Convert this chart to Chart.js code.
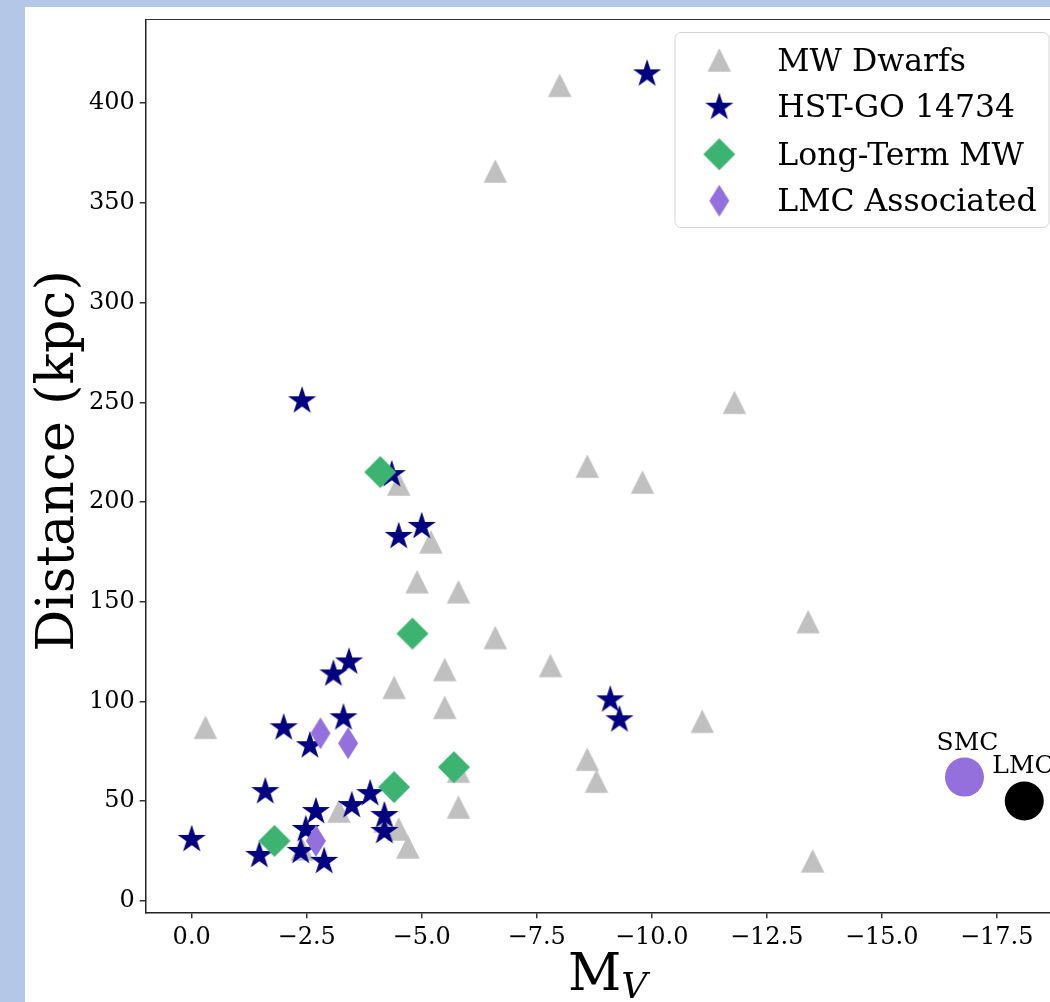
<!DOCTYPE html>
<html>
<head>
<meta charset="utf-8">
<script src="https://cdn.jsdelivr.net/npm/chart.js@4.4.1/dist/chart.umd.min.js"></script>
<style>
  html, body { margin: 0; padding: 0; }
  body { width: 1050px; height: 1002px; overflow: hidden; background: #b4c7e7; position: relative; }
  #paper { position: absolute; left: 25px; top: 7px; width: 1100px; height: 1100px; background: #fff; }
  #chart { position: absolute; left: 0; top: 0; }
</style>
</head>
<body>
<div id="paper"></div>
<canvas id="chart" width="1100" height="1002"></canvas>
<script>
// Distance vs absolute magnitude of MW satellites

const mwDwarfMv = [-0.3, -8.0, -6.6, -11.8, -8.6, -9.8, -4.5, -5.2, -4.9, -5.8, -6.6, -7.8, -5.5, -4.4,
  -5.5, -13.4, -11.1, -8.6, -8.8, -5.8, -5.8, -13.5, -3.2, -4.2, -4.5, -4.7, -2.4];
const mwDwarfDist = [87, 409, 366, 250, 218, 210, 209, 180, 160, 155, 132, 118, 116, 107,
  97, 140, 90, 71, 60, 65, 47, 20, 45, 40, 36, 27, 26];

const hstMv = [-9.9, -2.4, -4.35, -5.0, -4.5, -3.42, -3.08, -3.3, -2.0, -2.57, -9.1, -9.3,
  -1.6, 0.0, -1.47, -2.7, -2.48, -2.37, -2.88, -3.48, -3.88, -4.19, -4.19];
const hstDist = [415, 251, 214, 188, 183, 120, 114, 92, 87, 78, 101, 91,
  55, 31, 23, 45, 36, 25, 20, 48, 54, 43, 35];

const longTermMv = [-4.1, -4.8, -5.7, -4.4, -1.8];
const longTermDist = [215, 134, 67, 57, 30];

const lmcAssocMv = [-2.8, -3.4, -2.7];
const lmcAssocDist = [84, 79, 30];

const cloudNames = ['SMC', 'LMC'];
const cloudMv = [-16.8, -18.1];
const cloudDist = [62, 50];
const cloudColors = ['#9370db', '#000000'];

const xTicks = [0, -2.5, -5, -7.5, -10, -12.5, -15, -17.5];
const yTicks = [0, 50, 100, 150, 200, 250, 300, 350, 400];

const SERIF = '"DejaVu Serif", "Liberation Serif", serif';

function toPoints(xs, ys) {
  return xs.map((x, i) => ({ x: x, y: ys[i] }));
}

// marker images, shaped like matplotlib ^ * D d
function makeMarker(w, h, color, path) {
  const c = document.createElement('canvas');
  c.width = Math.ceil(w) + 2;
  c.height = Math.ceil(h) + 2;
  const g = c.getContext('2d');
  g.translate(c.width / 2, c.height / 2);
  g.fillStyle = color;
  g.beginPath();
  path(g, w / 2, h / 2);
  g.closePath();
  g.fill();
  return c;
}

const triangleImg = makeMarker(23.5, 23.5, '#c0c0c0', (g, a, b) => {
  g.moveTo(0, -b); g.lineTo(a, b); g.lineTo(-a, b);
});

const starImg = makeMarker(30, 30, '#000080', (g) => {
  const R = 14.8, r = R * 0.381966;
  for (let i = 0; i < 10; i++) {
    const ang = -Math.PI / 2 + i * Math.PI / 5;
    const rr = i % 2 === 0 ? R : r;
    const px = Math.cos(ang) * rr, py = Math.sin(ang) * rr + 0.5;
    if (i === 0) g.moveTo(px, py); else g.lineTo(px, py);
  }
});

const diamondImg = makeMarker(32, 32, '#3cb371', (g, a, b) => {
  g.moveTo(0, -b); g.lineTo(a, 0); g.lineTo(0, b); g.lineTo(-a, 0);
});

const thinDiamondImg = makeMarker(20, 32, '#9370db', (g, a, b) => {
  g.moveTo(0, -b); g.lineTo(a, 0); g.lineTo(0, b); g.lineTo(-a, 0);
});

const legendItems = [
  { label: 'MW Dwarfs', img: triangleImg },
  { label: 'HST-GO 14734', img: starImg },
  { label: 'Long-Term MW', img: diamondImg },
  { label: 'LMC Associated', img: thinDiamondImg }
];

const extrasPlugin = {
  id: 'extras',
  afterDraw(chart) {
    const ctx = chart.ctx;
    const area = chart.chartArea;
    const xs = chart.scales.x, ys = chart.scales.y;
    ctx.save();

    // top / right spines
    ctx.strokeStyle = '#333';
    ctx.lineWidth = 1.2;
    ctx.beginPath();
    ctx.moveTo(area.left, area.top);
    ctx.lineTo(area.right, area.top);
    ctx.lineTo(area.right, area.bottom);
    ctx.stroke();

    // cloud labels
    ctx.fillStyle = '#000';
    ctx.font = '25px ' + SERIF;
    ctx.textBaseline = 'alphabetic';
    let px = xs.getPixelForValue(cloudMv[0]), py = ys.getPixelForValue(cloudDist[0]);
    ctx.textAlign = 'center';
    ctx.fillText(cloudNames[0], px + 3, py - 27);
    px = xs.getPixelForValue(cloudMv[1]); py = ys.getPixelForValue(cloudDist[1]);
    ctx.textAlign = 'left';
    ctx.fillText(cloudNames[1], px - 32, py - 28);

    // y title
    ctx.save();
    ctx.translate(73, (area.top + area.bottom) / 2 - 5);
    ctx.rotate(-Math.PI / 2);
    ctx.font = '52px ' + SERIF;
    ctx.textAlign = 'center';
    ctx.textBaseline = 'alphabetic';
    ctx.fillText('Distance (kpc)', 0, 0);
    ctx.restore();

    // x title  M_V
    ctx.textAlign = 'left';
    ctx.font = '52px ' + SERIF;
    ctx.fillText('M', 568, 990);
    const mw = ctx.measureText('M').width;
    ctx.font = 'italic 36px ' + SERIF;
    ctx.fillText('V', 568 + mw, 998);

    // legend
    const lx = 675, ly = 32.5, lw = 374, lh = 195;
    ctx.beginPath();
    ctx.roundRect(lx, ly, lw, lh, 6);
    ctx.fillStyle = 'rgba(255,255,255,0.8)';
    ctx.fill();
    ctx.strokeStyle = '#d5d5d5';
    ctx.lineWidth = 1;
    ctx.stroke();
    const rows = [60, 106.7, 154.3, 200.7];
    ctx.font = '31.5px ' + SERIF;
    ctx.fillStyle = '#000';
    legendItems.forEach((it, i) => {
      ctx.drawImage(it.img, 719.3 - it.img.width / 2, rows[i] - it.img.height / 2);
      ctx.fillText(it.label, 777.3, rows[i] + 10.5);
    });

    ctx.restore();
  }
};

function fmtX(v) {
  if (v === 0) return '0.0';
  return (v < 0 ? '\u2212' : '') + Math.abs(v).toFixed(1);
}

const ctx = document.getElementById('chart');
new Chart(ctx, {
  type: 'scatter',
  data: {
    datasets: [
      { label: 'MW Dwarfs', data: toPoints(mwDwarfMv, mwDwarfDist), pointStyle: triangleImg, pointRadius: 10, order: 4 },
      { label: 'HST-GO 14734', data: toPoints(hstMv, hstDist), pointStyle: starImg, pointRadius: 10, order: 3 },
      { label: 'Long-Term MW', data: toPoints(longTermMv, longTermDist), pointStyle: diamondImg, pointRadius: 10, order: 2 },
      { label: 'LMC Associated', data: toPoints(lmcAssocMv, lmcAssocDist), pointStyle: thinDiamondImg, pointRadius: 10, order: 1 },
      {
        label: 'Clouds', data: toPoints(cloudMv, cloudDist), pointStyle: 'circle', pointRadius: 19.5,
        backgroundColor: cloudColors, borderWidth: 0, order: 0
      }
    ]
  },
  options: {
    responsive: false,
    animation: false,
    events: [],
    layout: { padding: { left: 0, top: 16.7, right: 38, bottom: 0 } },
    plugins: { legend: { display: false }, tooltip: { enabled: false } },
    scales: {
      x: {
        type: 'linear',
        reverse: true,
        min: -18.92,
        max: 1.0,
        afterBuildTicks: s => { s.ticks = xTicks.map(v => ({ value: v })); },
        afterFit: s => { s.height = 89.7; },
        ticks: { color: '#000', font: { family: SERIF, size: 24 }, padding: 5, maxRotation: 0, autoSkip: false, callback: v => fmtX(v) },
        grid: { drawOnChartArea: false, drawTicks: true, tickLength: 6, color: '#333', lineWidth: 1.5 },
        border: { display: true, color: '#222', width: 1.5 }
      },
      y: {
        type: 'linear',
        min: -5.8,
        max: 442,
        afterBuildTicks: s => { s.ticks = yTicks.map(v => ({ value: v })); },
        afterFit: s => { s.width = 145.7; },
        ticks: { color: '#000', font: { family: SERIF, size: 24 }, padding: 5, autoSkip: false, callback: v => String(v) },
        grid: { drawOnChartArea: false, drawTicks: true, tickLength: 6, color: '#333', lineWidth: 1.5 },
        border: { display: true, color: '#222', width: 1.5 }
      }
    }
  },
  plugins: [extrasPlugin]
});
</script>
</body>
</html>
